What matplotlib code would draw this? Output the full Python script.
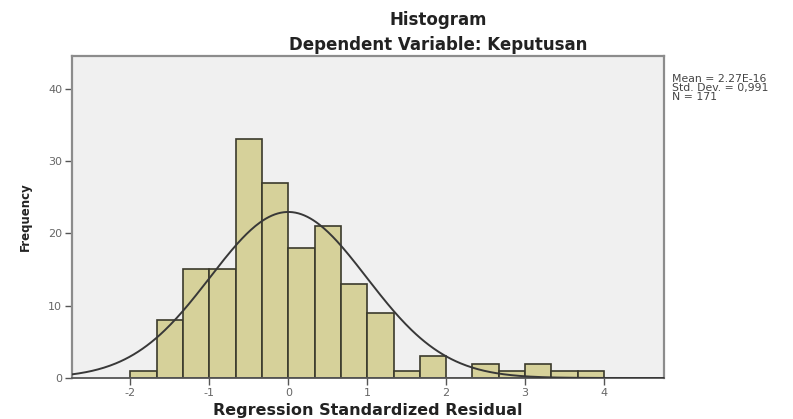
import numpy as np
import matplotlib
matplotlib.use("Agg")
import matplotlib.pyplot as plt

# Data
bin_left = -2.0
bin_width = 1 / 3
counts = [1, 8, 15, 15, 33, 27, 18, 21, 13, 9, 1, 3, 0, 2, 1, 2, 1, 1]
mean_val = 2.27e-16
std_val = 0.991
n_val = 171
xticks = [-2, -1, 0, 1, 2, 3, 4]
yticks = [0, 10, 20, 30, 40]

fig = plt.figure(figsize=(7.93, 4.19), dpi=100)
fig.patch.set_facecolor("white")
ax = fig.add_axes([72 / 793, 41 / 419, 592 / 793, 322 / 419])
ax.set_facecolor("#f0f0f0")

edges = bin_left + bin_width * np.arange(len(counts))
ax.bar(edges, counts, width=bin_width, align="edge", color="#d6d19a",
       edgecolor="#3b3a2c", linewidth=1.2, zorder=2)

xs = np.linspace(-2.75, 4.76, 400)
ys = n_val * bin_width * np.exp(-0.5 * ((xs - mean_val) / std_val) ** 2) / (std_val * np.sqrt(2 * np.pi))
ax.plot(xs, ys, color="#383838", linewidth=1.4, zorder=3)

ax.set_xlim(-2.74, 4.76)
ax.set_ylim(0, 44.5)
ax.set_xticks(xticks)
ax.set_yticks(yticks)
ax.set_xticklabels([str(t) for t in xticks])
ax.set_yticklabels([str(t) for t in yticks])
ax.tick_params(axis="both", colors="#555555", labelcolor="#666666", labelsize=8,
               length=5, width=1, direction="out", pad=2)

for side in ["left", "right", "top"]:
    ax.spines[side].set_color("#8c8c8c")
    ax.spines[side].set_linewidth(1.6)
ax.spines["bottom"].set_color("#555555")
ax.spines["bottom"].set_linewidth(1.3)

fig.text(368 / 793, 1 - 410 / 419, "Regression Standardized Residual", ha="center", va="center",
         fontsize=11.5, fontweight="bold", color="#222222")
ax.set_ylabel("Frequency", fontsize=8.5, fontweight="bold", color="#222222", labelpad=12)

fig.text(438 / 793, 1 - 20 / 419, "Histogram", ha="center", va="center",
         fontsize=12, fontweight="bold", color="#222222")
fig.text(438 / 793, 1 - 45 / 419, "Dependent Variable: Keputusan", ha="center", va="center",
         fontsize=12, fontweight="bold", color="#222222")

fig.text(672 / 793, 1 - 74 / 419,
         "Mean = 2.27E-16\nStd. Dev. = 0,991\nN = 171",
         ha="left", va="top", fontsize=7.8, color="#444444", linespacing=0.85)

fig.savefig("out.png", dpi=100)
